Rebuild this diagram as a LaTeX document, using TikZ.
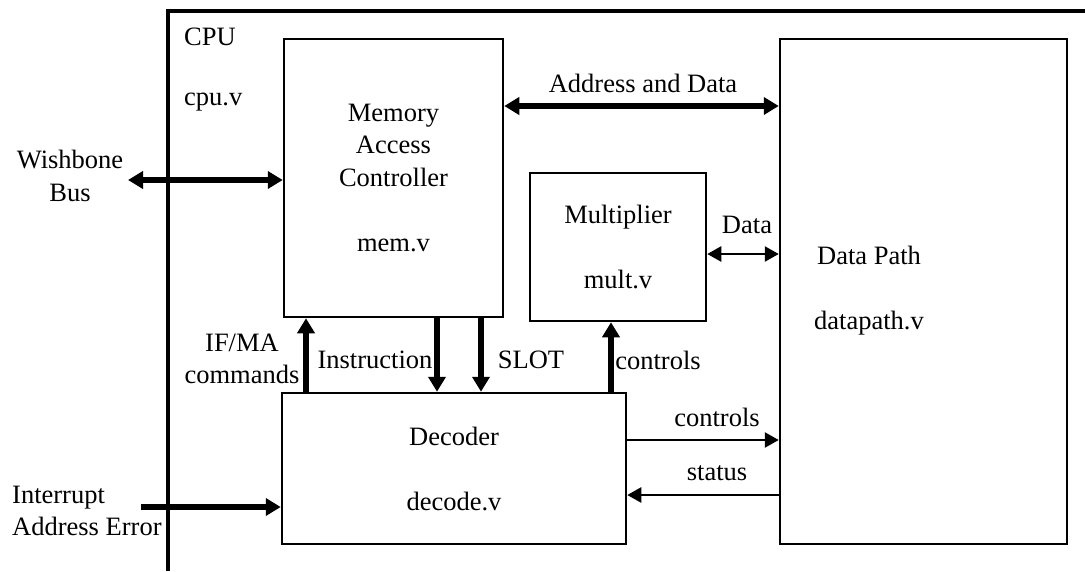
\documentclass[tikz,border=0pt]{standalone}
\usepackage{fontspec}
\setmainfont{Liberation Serif}
\usetikzlibrary{arrows.meta}
\begin{document}
\begin{tikzpicture}[x=1pt,y=-1pt,
  every node/.style={font=\fontsize{26.5}{32.5}\selectfont, inner sep=0pt},
  box/.style={draw, line width=2.5pt, align=center},
  lbl/.style={align=center},
  fat/.style={line width=5.5pt, -{Triangle[length=15pt,width=17pt]}},
  fatboth/.style={line width=5.5pt, {Triangle[length=15pt,width=17pt]}-{Triangle[length=15pt,width=17pt]}},
  thinarr/.style={line width=2.5pt, -{Triangle[length=14pt,width=15pt]}},
  thinboth/.style={line width=2.5pt, {Triangle[length=14pt,width=15pt]}-{Triangle[length=14pt,width=15pt]}}
]
\useasboundingbox (0,0) rectangle (1085,571);
\fill[white] (0,0) rectangle (1085,571);
% CPU frame
\coordinate (fb) at (168,571);
\coordinate (fc) at (168,11);
\coordinate (fr) at (1085,11);
\draw[line width=4.5pt] (fb) -- (fc) -- (fr);
\node[anchor=west] (cpu) at (184,37) {CPU};
\node[anchor=west] (cpuv) at (184,102) {cpu.v};
% boxes
\node[box, minimum width=219pt, minimum height=278pt] (mem) at (393.5,178) {Memory\\Access\\Controller\\[32.5pt]mem.v};
\node[box, minimum width=176pt, minimum height=148pt] (mult) at (618,247) {Multiplier\\[32.5pt]mult.v};
\node[box, minimum width=344pt, minimum height=151pt] (dec) at (454,468.5) {Decoder\\[32.5pt]decode.v};
\node[box, minimum width=287pt, minimum height=505pt] (dp) at (923.5,291.5) {};
\node[lbl] (dptext) at (869,291) {Data Path\\[32.5pt]datapath.v};
% external labels
\node[lbl] (wb) at (70,176) {Wishbone\\Bus};
\node[anchor=west, align=left] (intr) at (12,511) {Interrupt\\Address Error};
% connectors
\coordinate (wbL) at (128,180);
\draw[fatboth] (wbL) -- (wbL -| mem.west);
\coordinate (intL) at (141,507);
\draw[fat] (intL) -- (intL -| dec.west);
\coordinate (ad) at (0,106);
\draw[fatboth] (ad -| mem.east) -- (ad -| dp.west);
\node (adl) at (643,83) {Address and Data};
\coordinate (dd) at (0,254);
\draw[thinboth] (dd -| mult.east) -- (dd -| dp.west);
\node (ddl) at (747,225) {Data};
\coordinate (ifx) at (306,0);
\draw[fat] (ifx |- dec.north) -- (ifx |- mem.south);
\node[lbl] (ifl) at (242,359) {IF/MA\\commands};
\coordinate (insx) at (437,0);
\draw[fat] (insx |- mem.south) -- (insx |- dec.north);
\node (insl) at (375,360) {Instruction};
\coordinate (slx) at (481,0);
\draw[fat] (slx |- mem.south) -- (slx |- dec.north);
\node (sll) at (531,360) {SLOT};
\coordinate (cmx) at (611,0);
\draw[fat] (cmx |- dec.north) -- (cmx |- mult.south);
\node (cml) at (658,360) {controls};
\coordinate (cty) at (0,440);
\draw[thinarr] (cty -| dec.east) -- (cty -| dp.west);
\node (ctl) at (717,417) {controls};
\coordinate (sty) at (0,495);
\draw[thinarr] (sty -| dp.west) -- (sty -| dec.east);
\node (stl) at (717,473) {status};
\end{tikzpicture}
\end{document}
